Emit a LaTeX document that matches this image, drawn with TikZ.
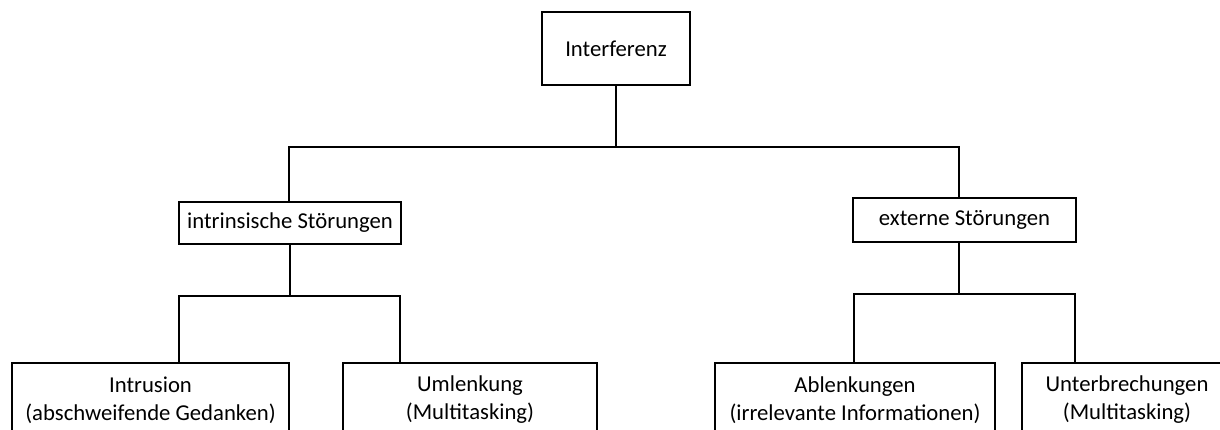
\documentclass[tikz,border=0pt]{standalone}
\usepackage{fontspec}
\setmainfont{Carlito}
\begin{document}
\begin{tikzpicture}[x=1pt,y=1pt,
  box/.style={draw,line width=1.6pt,inner sep=0pt,align=center,
    font=\fontsize{22.7}{28}\selectfont},
  conn/.style={line width=1.6pt}]
\useasboundingbox (0,0) rectangle (1220,430);
\clip (0,0) rectangle (1220,430);

% draw boxes
\node[box,minimum width=148pt,minimum height=73pt] (top) at (616,381.5) {Interferenz};
\node[box,minimum width=222pt,minimum height=42pt] (intr) at (290,207) {intrinsische Störungen};
\node[box,minimum width=223pt,minimum height=44pt] (ext) at (964.5,210) {externe Störungen};
\node[box,minimum width=277pt,minimum height=74pt] (intrusion) at (150.5,30) {Intrusion\\(abschweifende Gedanken)};
\node[box,minimum width=254pt,minimum height=74pt] (umlenk) at (470,30) {Umlenkung\\(Multitasking)};
\node[box,minimum width=280pt,minimum height=74pt] (ablenk) at (855,30) {Ablenkungen\\(irrelevante Informationen)};
\node[box,minimum width=210pt,minimum height=74pt] (unterbr) at (1127,30) {Unterbrechungen\\(Multitasking)};

% draw top branch
\coordinate (tl) at (289,283);
\coordinate (tr) at (959,283);
\draw[conn] (top.south) -- (top.south |- tl);
\draw[conn] (tl |- intr.north) -- (tl) -- (tr) -- (tr |- ext.north);

% draw left branch
\coordinate (il) at (179,134);
\coordinate (ir) at (400,134);
\draw[conn] (intr.south) -- (intr.south |- il);
\draw[conn] (il |- intrusion.north) -- (il) -- (ir) -- (ir |- umlenk.north);

% draw right branch
\coordinate (el) at (854,136);
\coordinate (er) at (1075,136);
\draw[conn] (tr |- ext.south) -- (tr |- el);
\draw[conn] (el |- ablenk.north) -- (el) -- (er) -- (er |- unterbr.north);
\end{tikzpicture}
\end{document}
